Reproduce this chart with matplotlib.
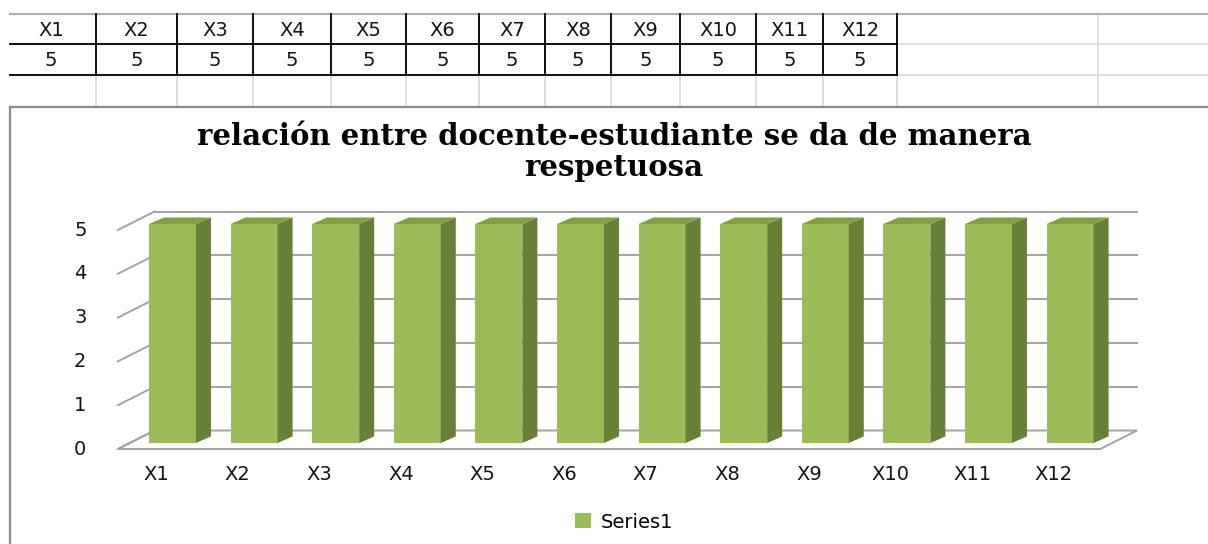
import matplotlib
matplotlib.use("Agg")
import matplotlib.pyplot as plt
from matplotlib.patches import Polygon

# datos de la hoja
categories = ["X1", "X2", "X3", "X4", "X5", "X6", "X7", "X8", "X9", "X10", "X11", "X12"]
values = [5, 5, 5, 5, 5, 5, 5, 5, 5, 5, 5, 5]
yticks = [0, 1, 2, 3, 4, 5]
title = "relación entre docente-estudiante se da de manera\nrespetuosa"
series_name = "Series1"

W, H = 1208, 544
FRONT = "#9BBB59"
SIDE = "#677F36"
TOP = "#819F47"
GRID = "#A3A3A3"
TXT = "#141414"
FS = 14

fig = plt.figure(figsize=(W / 100, H / 100), dpi=100)
fig.patch.set_facecolor("white")

# capa en pixeles para la hoja de calculo (bordes, celdas, marco del grafico)
sheet = fig.add_axes([0, 0, 1, 1])
sheet.set_xlim(0, W)
sheet.set_ylim(H, 0)
sheet.axis("off")

col_edges = [6, 96, 177, 253, 331, 406, 479, 545, 611, 680, 756, 823, 897]
row_lines = [14, 44, 75, 106]
light = "#D9D9D9"
for y in row_lines[:3]:
    sheet.plot([10, W], [y, y], color=light, lw=1.2, zorder=1)
for x in col_edges[1:] + [1098]:
    sheet.plot([x, x], [14, 106], color=light, lw=1.2, zorder=1)
sheet.plot([10, W], [14, 14], color="#B0B0B0", lw=1.5, zorder=2)
for y in (44, 75):
    sheet.plot([10, col_edges[-1]], [y, y], color="black", lw=1.3, zorder=3)
for x in col_edges[1:]:
    sheet.plot([x, x], [14, 75], color="black", lw=1.3, zorder=3)
for k, cat in enumerate(categories):
    cx = (col_edges[k] + col_edges[k + 1]) / 2
    sheet.text(cx, 30, cat, ha="center", va="center", fontsize=FS, color=TXT)
    sheet.text(cx, 60, str(values[k]), ha="center", va="center", fontsize=FS, color=TXT)

# marco del area del grafico
sheet.plot([10, W], [107, 107], color="#8C8C8C", lw=1.6, zorder=4)
sheet.plot([10, 10], [107, H], color="#8C8C8C", lw=1.6, zorder=4)

# ejes del grafico: x = indice de categoria, y = valor (cara frontal de las barras)
ax = fig.add_axes([0, 0, 1, 1])
ax.patch.set_alpha(0)
ax.axis("off")
px_x, x0 = 81.6, 172.5
px_y, y0 = 43.8, 443
ax.set_xlim(-x0 / px_x, (W - x0) / px_x)
ax.set_ylim((y0 - H) / px_y, y0 / px_y)

n = len(categories)
front_dv = -0.137           # plano frontal del piso/paredes
back_dv = 0.285             # pared del fondo
fl, fr = -0.67, n - 0.63    # extremos frontales del piso
dx_wall = 0.45

floor = Polygon([(fl, front_dv), (fr, front_dv), (fr + dx_wall, back_dv),
                 (fl + dx_wall, back_dv)], closed=True, facecolor="white",
                edgecolor=GRID, lw=1.4, zorder=1)
ax.add_patch(floor)
for t in yticks[1:]:
    ax.plot([fl + dx_wall, fr + dx_wall], [t + back_dv, t + back_dv], color=GRID, lw=1.4, zorder=1)
for t in yticks:
    ax.plot([fl, fl + dx_wall], [t + front_dv, t + back_dv], color=GRID, lw=1.4, zorder=1)
    ax.text(-1.13, t + front_dv, str(t), ha="center", va="center", fontsize=FS, color=TXT)

# barras pseudo-3D
w = 0.575
ddx, ddy = 0.184, 0.15
xs = list(range(n))
ax.bar(xs, values, width=w, color=FRONT, zorder=3, label=series_name)
for i, v in zip(xs, values):
    r = i + w / 2
    l = i - w / 2
    ax.add_patch(Polygon([(r, 0), (r + ddx, ddy), (r + ddx, v + ddy), (r, v)],
                         closed=True, facecolor=SIDE, edgecolor="none", zorder=3))
    ax.add_patch(Polygon([(l, v), (r, v), (r + ddx, v + ddy), (l + ddx, v + ddy)],
                         closed=True, facecolor=TOP, edgecolor="none", zorder=3))
    ax.text(i - 0.2, -0.73, categories[i], ha="center", va="center", fontsize=FS, color=TXT)

fig.text(614 / W, 1 - 152 / H, title, ha="center", va="center", fontsize=21,
         family="DejaVu Serif", fontweight="bold", color="black", linespacing=1.1)

ax.legend(loc="center", bbox_to_anchor=(624 / W, 1 - 522 / H), bbox_transform=fig.transFigure,
          frameon=False, fontsize=FS, handlelength=0.8, handleheight=0.8, handletextpad=0.5)

fig.savefig("out.png", dpi=100)
